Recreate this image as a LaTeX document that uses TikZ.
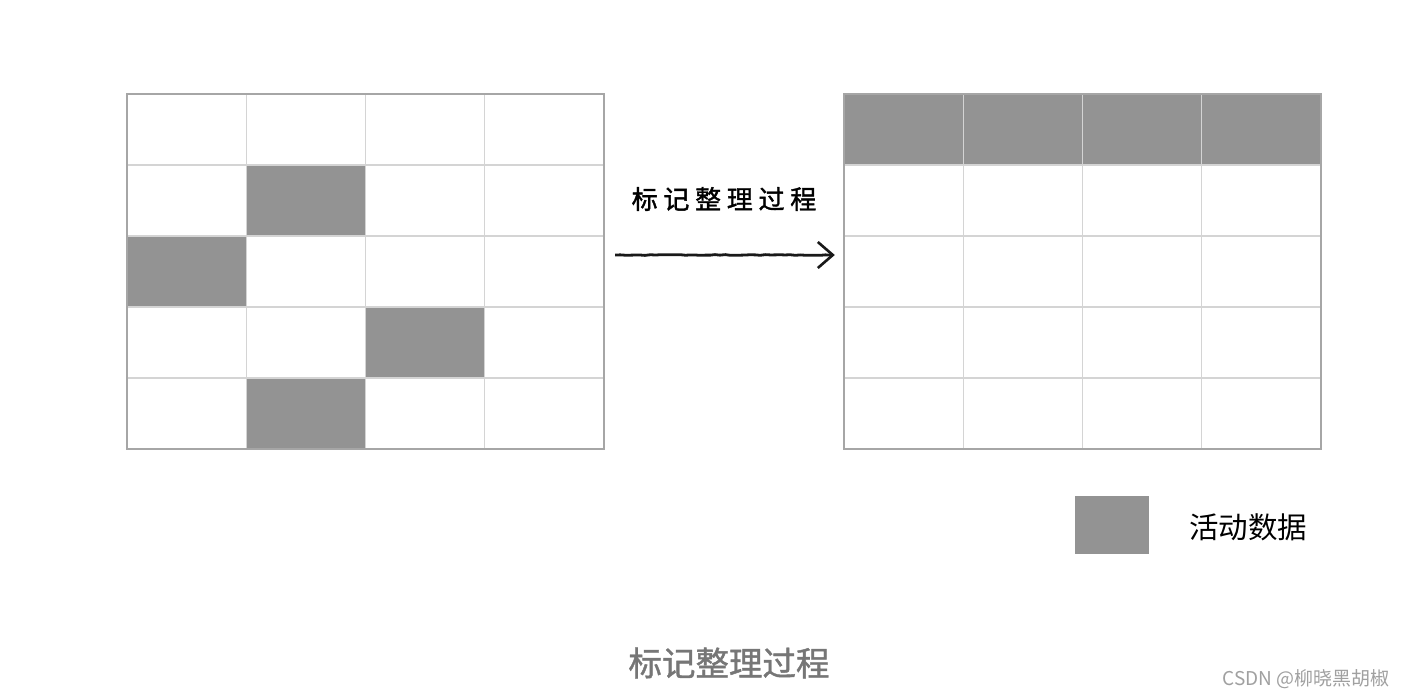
\documentclass[tikz,border=0pt]{standalone}
\usepackage{fontspec}
\usetikzlibrary{arrows.meta,decorations.pathmorphing}
\newfontfamily\cjk{Noto Sans CJK SC}
\newfontfamily\cjkbold[FakeBold=1.2]{Noto Sans CJK SC}
\newfontfamily\cjkwide[LetterSpace=22,FakeBold=1.5]{Noto Sans CJK SC}
\definecolor{cellfill}{HTML}{939393}
\definecolor{outer}{HTML}{A6A6A6}
\definecolor{inner}{HTML}{D4D4D4}
\definecolor{captiongray}{HTML}{767676}
\definecolor{markgray}{HTML}{A0A0A0}
\begin{document}
\begin{tikzpicture}[x=1pt,y=-1pt,
  live/.style={fill=cellfill,draw=none},
  innerline/.style={draw=inner,line width=1.1pt},
  outerline/.style={draw=outer,line width=2.4pt},
  lbl/.style={inner sep=0pt,anchor=center}]
\useasboundingbox[fill=white] (0,0) rectangle (1404,698);
% ---------- left grid ----------
\def\cw{119.25}\def\rh{71}
\begin{scope}[shift={(127,94)}]
  \fill[cellfill] (1*\cw,1*\rh) rectangle (2*\cw,2*\rh);
  \fill[cellfill] (0*\cw,2*\rh) rectangle (1*\cw,3*\rh);
  \fill[cellfill] (2*\cw,3*\rh) rectangle (3*\cw,4*\rh);
  \fill[cellfill] (1*\cw,4*\rh) rectangle (2*\cw,5*\rh);
  \foreach \i in {1,2,3} \draw[innerline] (\i*\cw,0) -- (\i*\cw,5*\rh);
  \foreach \j in {1,2,3,4} \draw[innerline] (0,\j*\rh) -- (4*\cw,\j*\rh);
  \draw[outerline] (0,0) rectangle (4*\cw,5*\rh);
\end{scope}
\node[inner sep=0pt,minimum width=477pt,minimum height=355pt] (L) at (365.5,271.5) {};
% ---------- right grid ----------
\begin{scope}[shift={(844,94)}]
  \fill[cellfill] (0,0) rectangle (4*\cw,1*\rh);
  \foreach \i in {1,2,3} \draw[innerline] (\i*\cw,0) -- (\i*\cw,5*\rh);
  \foreach \j in {1,2,3,4} \draw[innerline] (0,\j*\rh) -- (4*\cw,\j*\rh);
  \draw[outerline] (0,0) rectangle (4*\cw,5*\rh);
\end{scope}
\node[inner sep=0pt,minimum width=477pt,minimum height=355pt] (R) at (1082.5,271.5) {};
% ---------- arrow ----------
\coordinate (as) at ([xshift=11pt,yshift=16.5pt]L.east);
\coordinate (ae) at ([xshift=-9pt,yshift=16.5pt]R.west);
\draw[line width=2.8pt,black!90,
  decoration={random steps,segment length=5pt,amplitude=0.4pt},decorate]
  (as) -- ([xshift=-4pt]ae);
\draw[line width=2.8pt,black!90,-{Straight Barb[length=15pt,width=26pt,line width=2.6pt]}]
  ([xshift=-6pt]ae) -- (ae);
\node[lbl,font=\cjkwide\fontsize{26}{26}\selectfont] (t1) at (724,199) {标记整理过程};
% ---------- legend ----------
\node[live,minimum width=74pt,minimum height=58pt,inner sep=0pt] (leg) at (1112,525) {};
\node[lbl,font=\cjk\fontsize{29.5}{29.5}\selectfont,anchor=west] (legt) at (1189,527) {活动数据};
% ---------- caption ----------
\node[lbl,text=captiongray,font=\cjkbold\fontsize{33.5}{33.5}\selectfont] (cap) at (729,663) {标记整理过程};
\node[lbl,text=markgray,font=\cjk\fontsize{19}{19}\selectfont,anchor=east] (wm) at (1390,679) {CSDN @柳晓黑胡椒};
\end{tikzpicture}
\end{document}
